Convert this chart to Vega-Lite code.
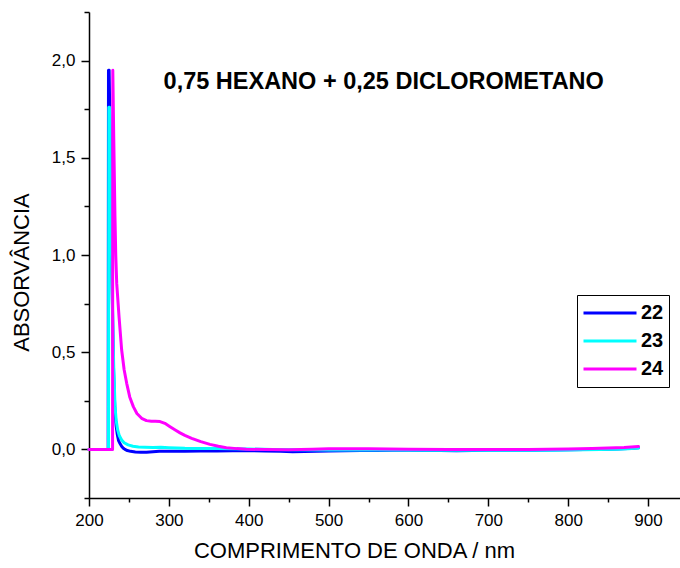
{
  "$schema": "https://vega.github.io/schema/vega-lite/v6.json",
  "autosize": {"type": "none"},
  "padding": {"left": 89, "top": 12, "right": 0, "bottom": 70},
  "width": 591,
  "height": 486,
  "background": "white",
  "config": {
    "view": {"stroke": null},
    "font": "Liberation Sans",
    "axis": {
      "domainColor": "black", "domainWidth": 1.5, "tickColor": "black", "tickWidth": 1.5, "tickSize": 8,
      "grid": false, "labelFont": "Liberation Sans", "labelFontSize": 17, "labelColor": "black",
      "titleFont": "Liberation Sans", "titleFontSize": 22, "titleFontWeight": "normal", "titleColor": "black"
    }
  },
  "datasets": {
    "spectra": [
      {"s": "22", "x": 200, "y": 0}, {"s": "22", "x": 224, "y": 0}, {"s": "22", "x": 224.4, "y": 1.95}, {"s": "22", "x": 225.2, "y": 1.95},
      {"s": "22", "x": 226.5, "y": 1.6}, {"s": "22", "x": 227.5, "y": 1.25}, {"s": "22", "x": 228.5, "y": 0.95}, {"s": "22", "x": 229.5, "y": 0.7},
      {"s": "22", "x": 230.5, "y": 0.45}, {"s": "22", "x": 231.5, "y": 0.3}, {"s": "22", "x": 232.5, "y": 0.2}, {"s": "22", "x": 234, "y": 0.12},
      {"s": "22", "x": 235.5, "y": 0.075}, {"s": "22", "x": 237, "y": 0.045}, {"s": "22", "x": 238.8, "y": 0.03}, {"s": "22", "x": 241, "y": 0.015},
      {"s": "22", "x": 243, "y": 0.006}, {"s": "22", "x": 245, "y": 0.0}, {"s": "22", "x": 248, "y": -0.006}, {"s": "22", "x": 252, "y": -0.01},
      {"s": "22", "x": 258, "y": -0.013}, {"s": "22", "x": 265, "y": -0.015}, {"s": "22", "x": 272, "y": -0.015}, {"s": "22", "x": 280, "y": -0.012},
      {"s": "22", "x": 288, "y": -0.009}, {"s": "22", "x": 295, "y": -0.009}, {"s": "22", "x": 305, "y": -0.009}, {"s": "22", "x": 320, "y": -0.009},
      {"s": "22", "x": 340, "y": -0.008}, {"s": "22", "x": 360, "y": -0.008}, {"s": "22", "x": 380, "y": -0.007}, {"s": "22", "x": 400, "y": -0.007},
      {"s": "22", "x": 420, "y": -0.008}, {"s": "22", "x": 440, "y": -0.01}, {"s": "22", "x": 455, "y": -0.012}, {"s": "22", "x": 470, "y": -0.011},
      {"s": "22", "x": 485, "y": -0.009}, {"s": "22", "x": 500, "y": -0.008}, {"s": "22", "x": 520, "y": -0.007}, {"s": "22", "x": 540, "y": -0.006},
      {"s": "22", "x": 560, "y": -0.006}, {"s": "22", "x": 580, "y": -0.005}, {"s": "22", "x": 600, "y": -0.005}, {"s": "22", "x": 620, "y": -0.006},
      {"s": "22", "x": 640, "y": -0.006}, {"s": "22", "x": 660, "y": -0.007}, {"s": "22", "x": 680, "y": -0.006}, {"s": "22", "x": 700, "y": -0.005},
      {"s": "22", "x": 720, "y": -0.005}, {"s": "22", "x": 740, "y": -0.004}, {"s": "22", "x": 760, "y": -0.004}, {"s": "22", "x": 780, "y": -0.003},
      {"s": "22", "x": 800, "y": -0.002}, {"s": "22", "x": 820, "y": -0.001}, {"s": "22", "x": 840, "y": 0.0}, {"s": "22", "x": 860, "y": 0.002},
      {"s": "22", "x": 875, "y": 0.004}, {"s": "22", "x": 888, "y": 0.008},

      {"s": "23", "x": 200, "y": 0}, {"s": "23", "x": 224.4, "y": 0}, {"s": "23", "x": 224.8, "y": 1.76}, {"s": "23", "x": 225.6, "y": 1.76},
      {"s": "23", "x": 227, "y": 1.4}, {"s": "23", "x": 228, "y": 1.1}, {"s": "23", "x": 229, "y": 0.85}, {"s": "23", "x": 230, "y": 0.6},
      {"s": "23", "x": 231, "y": 0.42}, {"s": "23", "x": 232.6, "y": 0.22}, {"s": "23", "x": 234, "y": 0.15}, {"s": "23", "x": 235.9, "y": 0.1},
      {"s": "23", "x": 238, "y": 0.07}, {"s": "23", "x": 240.9, "y": 0.048}, {"s": "23", "x": 244, "y": 0.034}, {"s": "23", "x": 249, "y": 0.023},
      {"s": "23", "x": 255, "y": 0.016}, {"s": "23", "x": 262, "y": 0.012}, {"s": "23", "x": 270, "y": 0.011}, {"s": "23", "x": 280, "y": 0.01},
      {"s": "23", "x": 290, "y": 0.011}, {"s": "23", "x": 300, "y": 0.009}, {"s": "23", "x": 320, "y": 0.006}, {"s": "23", "x": 340, "y": 0.005},
      {"s": "23", "x": 360, "y": 0.004}, {"s": "23", "x": 380, "y": 0.003}, {"s": "23", "x": 400, "y": 0.002}, {"s": "23", "x": 430, "y": 0.0},
      {"s": "23", "x": 460, "y": -0.002}, {"s": "23", "x": 500, "y": -0.003}, {"s": "23", "x": 540, "y": -0.003}, {"s": "23", "x": 580, "y": -0.003},
      {"s": "23", "x": 620, "y": -0.004}, {"s": "23", "x": 660, "y": -0.004}, {"s": "23", "x": 700, "y": -0.004}, {"s": "23", "x": 740, "y": -0.004},
      {"s": "23", "x": 780, "y": -0.004}, {"s": "23", "x": 800, "y": -0.003}, {"s": "23", "x": 820, "y": -0.002}, {"s": "23", "x": 840, "y": -0.001},
      {"s": "23", "x": 860, "y": 0.001}, {"s": "23", "x": 875, "y": 0.003}, {"s": "23", "x": 888, "y": 0.007},

      {"s": "24", "x": 200, "y": 0}, {"s": "24", "x": 229.5, "y": 0}, {"s": "24", "x": 229.8, "y": 1.95}, {"s": "24", "x": 231, "y": 1.6},
      {"s": "24", "x": 232.5, "y": 1.2}, {"s": "24", "x": 233.5, "y": 1.0}, {"s": "24", "x": 234.7, "y": 0.854}, {"s": "24", "x": 237.6, "y": 0.683},
      {"s": "24", "x": 240.9, "y": 0.511}, {"s": "24", "x": 244, "y": 0.41}, {"s": "24", "x": 247.2, "y": 0.34}, {"s": "24", "x": 251, "y": 0.27},
      {"s": "24", "x": 255.5, "y": 0.22}, {"s": "24", "x": 260, "y": 0.185}, {"s": "24", "x": 265.9, "y": 0.16}, {"s": "24", "x": 272, "y": 0.148},
      {"s": "24", "x": 278, "y": 0.145}, {"s": "24", "x": 283, "y": 0.145}, {"s": "24", "x": 289, "y": 0.143}, {"s": "24", "x": 295, "y": 0.134},
      {"s": "24", "x": 301, "y": 0.118}, {"s": "24", "x": 308, "y": 0.1}, {"s": "24", "x": 314, "y": 0.085}, {"s": "24", "x": 320, "y": 0.072},
      {"s": "24", "x": 328.6, "y": 0.057}, {"s": "24", "x": 340, "y": 0.04}, {"s": "24", "x": 351.5, "y": 0.026}, {"s": "24", "x": 362, "y": 0.016},
      {"s": "24", "x": 372, "y": 0.009}, {"s": "24", "x": 385, "y": 0.004}, {"s": "24", "x": 397, "y": 0.001}, {"s": "24", "x": 420, "y": -0.001},
      {"s": "24", "x": 450, "y": -0.002}, {"s": "24", "x": 480, "y": 0.001}, {"s": "24", "x": 500, "y": 0.003}, {"s": "24", "x": 550, "y": 0.003},
      {"s": "24", "x": 600, "y": 0.001}, {"s": "24", "x": 650, "y": 0.0}, {"s": "24", "x": 700, "y": 0.0}, {"s": "24", "x": 750, "y": 0.0},
      {"s": "24", "x": 800, "y": 0.002}, {"s": "24", "x": 830, "y": 0.004}, {"s": "24", "x": 850, "y": 0.007}, {"s": "24", "x": 870, "y": 0.01},
      {"s": "24", "x": 888, "y": 0.015}
    ],
    "note": [
      {"label": "0,75 HEXANO + 0,25 DICLOROMETANO", "x": 569, "y": 1.89}
    ]
  },
  "layer": [
    {
      "data": {"name": "spectra"},
      "mark": {"type": "line", "strokeWidth": 3, "strokeJoin": "round", "strokeCap": "round"},
      "encoding": {
        "x": {
          "field": "x", "type": "quantitative",
          "scale": {"domain": [200, 940], "nice": false, "zero": false},
          "axis": {
            "title": "COMPRIMENTO DE ONDA / nm",
            "values": [200, 250, 300, 350, 400, 450, 500, 550, 600, 650, 700, 750, 800, 850, 900],
            "labelExpr": "datum.value % 100 === 0 ? datum.label : ''",
            "tickDash": {"condition": {"test": "datum.value % 100 === 0", "value": []}, "value": [4, 20]},
            "labelPadding": 6,
            "labelFlush": false,
            "titleX": 265,
            "titleY": 42,
            "titleBaseline": "top",
            "titleAnchor": "middle"
          }
        },
        "y": {
          "field": "y", "type": "quantitative",
          "scale": {"domain": [-0.25, 2.25], "nice": false, "zero": false},
          "axis": {
            "title": "ABSORVÂNCIA",
            "values": [-0.25, 0, 0.25, 0.5, 0.75, 1, 1.25, 1.5, 1.75, 2, 2.25],
            "labelExpr": "datum.value >= 0 && datum.value <= 2 && datum.value % 0.5 === 0 ? replace(format(datum.value, '.1f'), '.', ',') : ''",
            "tickDash": {"condition": {"test": "datum.value % 0.5 === 0", "value": []}, "value": [5, 20]},
            "labelPadding": 6,
            "labelFlush": false,
            "titleX": -56,
            "titleY": 260,
            "titleAnchor": "middle"
          }
        },
        "color": {
          "field": "s", "type": "nominal",
          "scale": {"domain": ["22", "23", "24"], "range": ["#0000FF", "#00FFFF", "#FF00FF"]},
          "legend": {
            "title": null,
            "orient": "none",
            "legendX": 488,
            "legendY": 283,
            "strokeColor": "black",
            "fillColor": "white",
            "padding": 5,
            "symbolType": "stroke",
            "symbolSize": 2809,
            "symbolStrokeWidth": 3,
            "clipHeight": 26,
            "rowPadding": 2,
            "labelFont": "Liberation Sans",
            "labelFontSize": 20,
            "labelFontWeight": "bold",
            "labelColor": "black",
            "labelOffset": 3
          }
        }
      }
    },
    {
      "data": {"name": "note"},
      "mark": {"type": "text", "font": "Liberation Sans", "fontSize": 23.5, "fontWeight": "bold", "color": "black", "align": "center", "baseline": "middle"},
      "encoding": {
        "x": {"field": "x", "type": "quantitative"},
        "y": {"field": "y", "type": "quantitative"},
        "text": {"field": "label"}
      }
    }
  ]
}
